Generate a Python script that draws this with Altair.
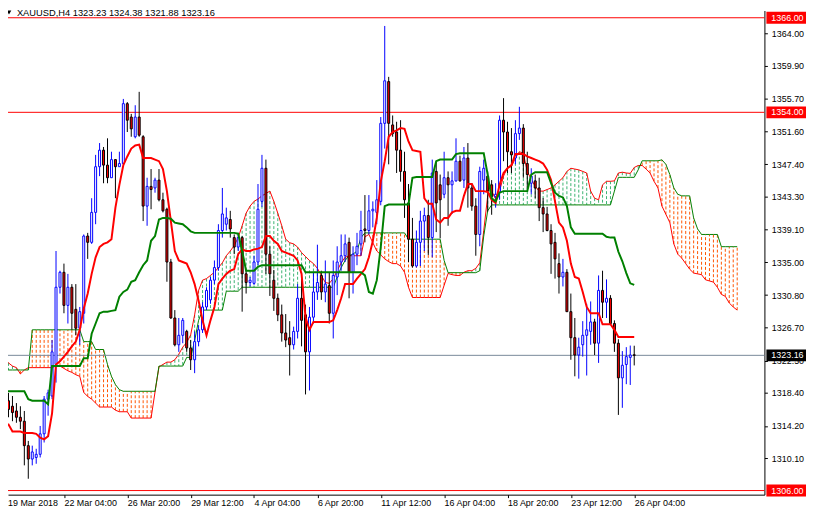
import altair as alt
import pandas as pd

# ---------------- data ----------------
opens = [1311.0, 1311.7, 1317.4, 1316.7, 1316.1, 1315.3, 1314.8, 1311.7, 1310.0, 1310.2,
         1310.6, 1313.2, 1317.6, 1318.0, 1322.0, 1331.8, 1333.7, 1329.5, 1331.8, 1329.0,
         1326.6, 1328.5, 1338.3, 1337.5, 1341.3, 1347.1, 1349.2, 1347.3, 1345.7, 1348.0,
         1347.1, 1347.5, 1355.1, 1353.4, 1350.9, 1353.4, 1350.9, 1342.1, 1344.6, 1344.4,
         1345.4, 1342.9, 1341.7, 1335.0, 1327.9, 1324.5, 1325.7, 1326.2, 1324.1, 1322.6,
         1324.9, 1326.4, 1329.3, 1330.2, 1332.7, 1334.3, 1339.0, 1339.8, 1340.4, 1338.1,
         1336.9, 1338.1, 1333.5, 1332.4, 1332.3, 1335.0, 1342.7, 1346.9, 1336.0, 1332.7,
         1330.4, 1328.3, 1326.0, 1325.4, 1324.5, 1326.2, 1330.4, 1328.3, 1323.6, 1328.0,
         1331.2, 1333.3, 1331.2, 1332.0, 1328.5, 1333.1, 1335.0, 1335.8, 1337.5, 1333.7,
         1336.0, 1337.3, 1339.2, 1339.0, 1341.5, 1341.3, 1342.7, 1352.6, 1357.9, 1352.4,
         1351.5, 1349.2, 1346.5, 1342.5, 1337.9, 1334.5, 1337.5, 1340.2, 1340.9, 1338.1,
         1346.5, 1344.8, 1343.6, 1345.7, 1344.8, 1345.3, 1347.8, 1345.4, 1348.2, 1344.4,
         1342.1, 1338.5, 1345.4, 1345.9, 1344.8, 1343.3, 1343.9, 1353.0, 1351.5, 1349.0,
         1348.2, 1351.3, 1352.0, 1347.5, 1345.0, 1345.3, 1344.4, 1341.9, 1341.1, 1339.0,
         1337.5, 1334.8, 1333.1, 1333.7, 1328.7, 1325.4, 1323.2, 1324.5, 1325.7, 1326.2,
         1327.4, 1324.7, 1331.4, 1329.9, 1330.4, 1327.2, 1324.7, 1320.3, 1322.0, 1322.9,
         1323.23]
highs = [1313.8, 1319.4, 1318.4, 1318.0, 1317.1, 1316.7, 1316.1, 1312.3, 1311.7, 1311.3,
         1314.2, 1318.0, 1318.8, 1325.1, 1336.4, 1333.9, 1334.8, 1333.5, 1332.2, 1332.2,
         1329.3, 1338.5, 1338.7, 1343.1, 1348.6, 1350.1, 1349.6, 1350.7, 1349.0, 1348.0,
         1349.0, 1355.7, 1355.3, 1353.8, 1354.9, 1356.6, 1351.1, 1345.7, 1346.8, 1345.7,
         1346.8, 1343.8, 1341.9, 1335.4, 1328.9, 1327.9, 1327.9, 1326.4, 1325.1, 1326.2,
         1327.0, 1329.9, 1331.8, 1333.1, 1335.2, 1339.8, 1344.4, 1341.9, 1341.5, 1338.5,
         1338.7, 1338.3, 1333.9, 1333.1, 1335.8, 1344.9, 1348.6, 1348.0, 1337.0, 1334.0,
         1331.0, 1329.6, 1328.4, 1327.5, 1326.8, 1332.2, 1333.7, 1329.6, 1329.3, 1333.7,
         1337.2, 1333.9, 1335.2, 1333.7, 1335.2, 1337.0, 1338.5, 1338.5, 1338.1, 1337.0,
         1338.7, 1341.5, 1343.5, 1343.5, 1342.7, 1345.4, 1353.4, 1364.96, 1358.5, 1353.6,
         1352.8, 1353.0, 1349.0, 1344.9, 1340.6, 1339.0, 1341.5, 1341.9, 1342.9, 1348.0,
         1347.7, 1346.1, 1349.0, 1346.5, 1346.5, 1350.7, 1348.5, 1349.6, 1350.1, 1345.0,
         1343.1, 1347.1, 1348.0, 1346.5, 1345.4, 1345.0, 1353.6, 1355.8, 1352.8, 1352.0,
         1353.0, 1354.7, 1352.5, 1349.0, 1346.9, 1346.1, 1345.7, 1343.1, 1342.0, 1339.8,
         1338.7, 1336.1, 1335.4, 1334.1, 1331.0, 1327.9, 1325.4, 1327.5, 1329.7, 1330.0,
         1327.8, 1333.3, 1333.9, 1332.8, 1330.8, 1327.6, 1325.2, 1323.7, 1324.2, 1324.4,
         1324.38]
lows = [1309.5, 1310.6, 1315.3, 1314.8, 1314.6, 1313.8, 1309.2, 1307.5, 1309.2, 1309.4,
        1310.2, 1312.1, 1315.5, 1317.6, 1319.7, 1331.0, 1328.5, 1327.2, 1326.4, 1325.7,
        1324.5, 1327.2, 1335.4, 1337.3, 1339.8, 1345.9, 1345.0, 1345.0, 1345.7, 1343.1,
        1347.1, 1347.3, 1351.5, 1350.9, 1350.7, 1350.9, 1340.2, 1339.6, 1341.7, 1343.8,
        1342.7, 1341.3, 1332.5, 1327.8, 1324.3, 1323.6, 1324.7, 1323.6, 1321.3, 1320.9,
        1324.3, 1326.0, 1328.9, 1329.7, 1332.2, 1333.9, 1338.1, 1339.0, 1338.1, 1336.0,
        1336.4, 1328.7, 1331.0, 1331.9, 1332.1, 1334.6, 1342.0, 1333.5, 1330.7, 1328.8,
        1327.5, 1324.9, 1324.2, 1320.6, 1323.9, 1325.3, 1324.3, 1318.2, 1318.7, 1327.2,
        1330.2, 1330.2, 1329.9, 1327.2, 1325.3, 1330.8, 1333.9, 1335.0, 1330.4, 1331.0,
        1334.6, 1335.8, 1337.5, 1338.5, 1339.4, 1339.8, 1342.2, 1349.4, 1347.4, 1350.9,
        1346.3, 1345.2, 1340.6, 1335.0, 1334.3, 1334.3, 1334.5, 1336.4, 1335.9, 1335.6,
        1338.8, 1338.0, 1343.1, 1339.6, 1341.1, 1345.2, 1345.2, 1344.4, 1341.9, 1341.5,
        1335.8, 1337.0, 1343.6, 1341.4, 1341.0, 1341.9, 1342.9, 1347.8, 1346.3, 1346.3,
        1347.4, 1350.5, 1345.7, 1344.2, 1343.6, 1343.1, 1340.2, 1338.8, 1338.9, 1333.5,
        1332.9, 1331.0, 1331.9, 1328.7, 1322.6, 1320.5, 1320.2, 1323.0, 1320.6, 1324.5,
        1323.2, 1322.2, 1327.9, 1327.9, 1327.2, 1323.6, 1315.6, 1316.5, 1319.5, 1319.4,
        1321.88]
closes = [1313.0, 1318.6, 1316.3, 1315.9, 1315.3, 1314.8, 1311.7, 1310.0, 1310.9, 1310.6,
          1313.2, 1317.6, 1318.4, 1323.6, 1331.8, 1333.7, 1329.5, 1331.8, 1328.5, 1326.6,
          1328.7, 1338.3, 1337.5, 1341.3, 1347.1, 1349.2, 1347.3, 1345.7, 1348.0, 1347.1,
          1347.5, 1355.1, 1353.0, 1351.9, 1353.4, 1351.1, 1342.1, 1344.6, 1344.2, 1345.4,
          1342.9, 1341.5, 1335.0, 1327.9, 1324.5, 1325.7, 1327.6, 1324.1, 1322.6, 1324.9,
          1326.4, 1329.3, 1331.4, 1332.7, 1334.3, 1339.0, 1341.1, 1340.6, 1339.2, 1336.9,
          1338.1, 1333.5, 1332.4, 1332.7, 1335.0, 1341.7, 1346.9, 1336.0, 1333.5, 1330.4,
          1328.3, 1326.0, 1325.1, 1324.5, 1326.2, 1330.4, 1327.6, 1323.6, 1328.0, 1331.2,
          1332.4, 1331.2, 1332.2, 1328.5, 1333.3, 1335.0, 1335.8, 1337.3, 1333.7, 1336.0,
          1337.0, 1339.0, 1339.0, 1341.5, 1341.7, 1342.9, 1352.6, 1358.0, 1352.6, 1351.3,
          1349.2, 1346.5, 1342.9, 1337.9, 1334.5, 1337.5, 1340.2, 1340.9, 1338.1, 1346.3,
          1342.5, 1342.9, 1345.7, 1344.8, 1345.3, 1347.8, 1345.3, 1348.2, 1344.4, 1342.1,
          1338.5, 1346.5, 1346.9, 1344.0, 1343.3, 1343.6, 1353.0, 1351.5, 1349.0, 1348.6,
          1351.3, 1352.0, 1347.5, 1346.1, 1345.9, 1344.4, 1341.9, 1341.1, 1339.0, 1337.3,
          1335.4, 1333.1, 1333.7, 1328.7, 1325.4, 1323.2, 1324.2, 1325.7, 1326.4, 1327.4,
          1324.7, 1331.4, 1329.9, 1330.4, 1327.2, 1324.7, 1320.3, 1321.9, 1323.0, 1323.2,
          1323.16]
tenkan = [1314.4, 1314.4, 1314.4, 1313.5, 1313.5, 1313.5, 1313.3, 1313.3, 1313.3, 1313.2,
          1312.7, 1312.5, 1312.9, 1315.8, 1322.0, 1322.4, 1323.0, 1323.6, 1324.3, 1324.9,
          1326.4, 1329.1, 1331.0, 1333.5, 1335.6, 1336.9, 1337.3, 1337.5, 1337.9, 1341.9,
          1344.8, 1347.3, 1348.4, 1349.4, 1349.8, 1349.9, 1348.2, 1348.2, 1348.2, 1348.0,
          1347.8, 1346.8, 1344.0, 1340.2, 1336.4, 1335.2, 1335.0, 1334.8, 1333.7, 1332.2,
          1330.1, 1327.6, 1325.7, 1327.6, 1329.3, 1332.2, 1332.9, 1333.5, 1333.9, 1334.1,
          1336.0, 1336.6, 1336.4, 1336.4, 1336.6, 1336.7, 1336.9, 1338.3, 1338.3, 1337.7,
          1337.3, 1336.4, 1336.2, 1336.0, 1335.8, 1335.2, 1333.5, 1328.0, 1326.4, 1327.4,
          1327.4, 1327.4, 1327.4, 1327.4, 1327.6, 1328.9, 1330.4, 1332.2, 1332.2, 1332.2,
          1332.9, 1333.5, 1334.1, 1335.6, 1337.7, 1340.6, 1345.2, 1347.8, 1350.9, 1351.5,
          1351.7, 1352.0, 1351.9, 1350.3, 1349.2, 1349.1, 1349.0, 1343.1, 1342.4, 1342.4,
          1340.4, 1340.0, 1340.6, 1340.6, 1341.3, 1341.5, 1341.5, 1343.4, 1344.9, 1344.9,
          1344.0, 1344.0, 1344.0, 1343.9, 1342.9, 1342.5, 1344.8, 1346.3, 1346.9, 1347.3,
          1348.7, 1348.7, 1348.7, 1348.4, 1348.2, 1348.0, 1347.8, 1347.5, 1346.7, 1345.4,
          1342.7, 1340.0, 1339.4, 1337.7, 1334.8, 1333.1, 1332.9, 1331.2, 1329.3, 1328.5,
          1328.5, 1328.5, 1327.1, 1327.1, 1327.1, 1326.4, 1325.5, 1325.5, 1325.5, 1325.5,
          1325.5]
kijun = [1318.6, 1318.6, 1318.6, 1318.6, 1318.6, 1318.6, 1318.6, 1317.6, 1317.4, 1317.4,
         1317.4, 1317.4, 1316.95, 1321.8, 1321.8, 1321.8, 1321.8, 1321.8, 1321.8, 1321.8,
         1321.8, 1322.8, 1322.8, 1325.9, 1327.2, 1328.5, 1328.7, 1328.7, 1328.8, 1328.9,
         1330.6, 1331.2, 1331.5, 1332.5, 1332.7, 1333.7, 1334.6, 1335.2, 1337.7, 1338.3,
         1340.4, 1340.6, 1340.6, 1340.5, 1340.0, 1339.9, 1339.8, 1339.4, 1338.9, 1338.7,
         1338.7, 1338.7, 1338.7, 1338.7, 1338.7, 1338.7, 1338.7, 1338.7, 1338.7, 1338.7,
         1338.6, 1336.4, 1333.9, 1333.9, 1333.9, 1334.4, 1334.6, 1334.6, 1334.6, 1334.6,
         1334.6, 1334.6, 1334.6, 1334.6, 1334.6, 1334.6, 1334.6, 1333.7, 1333.7, 1333.7,
         1333.7, 1333.7, 1333.7, 1333.7, 1333.7, 1333.7, 1333.7, 1333.7, 1333.7, 1333.7,
         1333.7, 1333.7, 1333.3, 1331.2, 1331.0, 1332.7, 1336.9, 1342.1, 1342.3, 1342.3,
         1342.3, 1342.3, 1342.3, 1342.3, 1345.7, 1345.8, 1345.8, 1345.8, 1345.8, 1345.8,
         1347.8, 1348.0, 1348.0, 1348.0, 1348.0, 1348.7, 1348.8, 1348.8, 1348.8, 1348.8,
         1348.8, 1348.8, 1348.8, 1346.1, 1343.1, 1342.7, 1343.8, 1344.0, 1344.0, 1344.0,
         1344.0, 1344.0, 1344.0, 1344.0, 1346.1, 1346.4, 1346.4, 1346.4, 1346.4, 1345.0,
         1343.8, 1343.4, 1343.2, 1342.1, 1339.4, 1338.6, 1338.6, 1338.6, 1338.6, 1338.6,
         1338.6, 1338.6, 1338.6, 1338.2, 1338.1, 1338.1, 1336.3, 1335.1, 1333.6, 1332.3,
         1332.1]
span_a = [1323.2, 1322.7, 1322.2, 1321.8, 1321.6, 1320.8, 1321.3, 1321.6, 1321.6, 1321.6,
          1321.6, 1321.6, 1321.6, 1321.6, 1321.8, 1321.8, 1321.5, 1321.2, 1321.0, 1320.7,
          1320.5, 1318.45, 1317.95, 1317.6, 1317.1, 1316.6, 1316.6, 1316.6, 1316.6, 1316.2,
          1316.0, 1316.0, 1316.0, 1315.2, 1315.2, 1315.2, 1315.2, 1315.2, 1315.2, 1318.5,
          1321.7, 1322.0, 1322.3, 1322.3, 1322.6, 1323.3, 1324.2, 1324.8, 1325.75, 1328.3,
          1331.4, 1332.7, 1332.9, 1333.3, 1333.7, 1334.3, 1334.9, 1335.8, 1336.4, 1337.1,
          1338.1, 1339.6, 1341.2, 1342.1, 1342.7, 1343.0, 1343.4, 1343.7, 1344.0, 1342.7,
          1341.2, 1339.6, 1337.9, 1337.45, 1337.3, 1336.9, 1336.2, 1335.7, 1335.2, 1334.8,
          1334.2, 1333.3, 1332.4, 1332.3, 1332.9, 1333.9, 1334.9, 1335.6, 1335.8, 1335.8,
          1335.8, 1335.8, 1338.2, 1338.5, 1337.45, 1336.4, 1335.9, 1335.4, 1335.05, 1334.8,
          1334.8, 1334.5, 1333.7, 1331.8, 1330.5, 1330.5, 1330.5, 1330.5, 1330.5, 1330.5,
          1330.5, 1330.5, 1332.05, 1333.55, 1333.4, 1333.3, 1333.3, 1333.7, 1333.9, 1333.9,
          1334.2, 1334.9, 1338.96, 1343.4, 1344.0, 1343.0, 1344.0, 1345.9, 1347.0, 1347.1,
          1348.2, 1349.0, 1348.8, 1346.5, 1345.5, 1344.6, 1344.0, 1344.0, 1344.2, 1344.4,
          1344.8, 1345.25, 1345.7, 1346.5, 1346.9, 1346.8, 1346.7, 1346.5, 1346.3, 1344.0,
          1343.1, 1342.9, 1344.8, 1345.25, 1345.25, 1345.3, 1346.3, 1346.4, 1346.3, 1346.25,
          1347.0, 1347.25, 1347.25, 1346.8, 1346.3, 1345.25, 1344.4, 1342.1, 1341.05, 1340.0,
          1337.3, 1336.0, 1335.5, 1334.8, 1334.1, 1333.6, 1333.5, 1333.4, 1332.75, 1332.6,
          1332.45, 1331.8, 1330.9, 1330.65, 1329.8, 1329.3, 1328.9]
span_b = [1321.3, 1321.3, 1321.3, 1321.3, 1321.3, 1321.3, 1321.3, 1321.3, 1326.4, 1326.4,
          1326.4, 1326.4, 1326.4, 1326.4, 1326.4, 1326.4, 1326.4, 1326.4, 1326.4, 1326.4,
          1326.4, 1324.9, 1324.9, 1324.9, 1323.9, 1323.9, 1323.9, 1322.0, 1320.5, 1319.45,
          1318.8, 1318.6, 1318.6, 1318.6, 1318.6, 1318.6, 1318.6, 1318.6, 1318.6, 1318.6,
          1321.8, 1321.8, 1321.8, 1321.8, 1321.8, 1321.8, 1321.8, 1322.9, 1322.9, 1325.0,
          1327.6, 1328.9, 1328.9, 1328.9, 1328.9, 1328.9, 1328.9, 1331.3, 1331.3, 1331.3,
          1331.3, 1331.8, 1331.8, 1331.8, 1331.8, 1331.8, 1331.8, 1331.8, 1331.8, 1331.8,
          1331.8, 1331.8, 1331.8, 1331.8, 1331.8, 1331.8, 1331.8, 1331.8, 1331.8, 1331.8,
          1331.8, 1331.8, 1331.8, 1331.8, 1331.8, 1333.1, 1334.3, 1335.2, 1335.8, 1336.0,
          1336.4, 1338.1, 1338.7, 1338.7, 1338.7, 1338.7, 1338.7, 1338.7, 1338.7, 1338.7,
          1338.7, 1338.7, 1338.7, 1337.9, 1337.9, 1337.9, 1337.9, 1337.9, 1337.9, 1337.9,
          1337.9, 1337.9, 1335.2, 1333.65, 1333.65, 1333.65, 1333.65, 1333.65, 1333.65, 1333.65,
          1333.65, 1333.9, 1338.3, 1341.5, 1342.25, 1342.25, 1342.25, 1342.25, 1342.25, 1342.25,
          1342.25, 1342.25, 1342.25, 1342.25, 1342.25, 1342.25, 1342.25, 1342.25, 1342.25, 1342.25,
          1342.25, 1342.25, 1342.25, 1342.25, 1342.25, 1342.25, 1342.25, 1342.25, 1342.25, 1342.25,
          1342.25, 1342.25, 1342.25, 1342.25, 1342.25, 1344.0, 1345.75, 1345.75, 1345.75, 1345.75,
          1345.75, 1346.7, 1347.85, 1347.85, 1347.85, 1347.85, 1347.85, 1347.97, 1347.4, 1346.1,
          1344.4, 1343.6, 1343.4, 1343.4, 1343.4, 1340.6, 1339.2, 1338.5, 1338.5, 1338.5,
          1338.5, 1338.5, 1336.95, 1336.95, 1336.95, 1336.95, 1336.95]

price_ticks = [1364.00, 1359.90, 1355.70, 1351.60, 1347.40, 1343.30, 1339.10,
               1335.00, 1330.80, 1326.70, 1322.50, 1318.40, 1314.20, 1310.10]
date_bars = [16, 32, 48, 64, 80, 96, 112, 128, 144, 160]
date_labels = ["22 Mar 04:00", "26 Mar 20:00", "29 Mar 12:00", "4 Apr 04:00", "6 Apr 20:00",
               "11 Apr 12:00", "16 Apr 04:00", "18 Apr 20:00", "23 Apr 12:00", "26 Apr 04:00"]
first_date_label = "19 Mar 2018"
level_prices = [1366.00, 1354.00, 1306.00]
bid_price = 1323.16
header_text = "XAUUSD,H4  1323.23 1324.38 1321.88 1323.16"

assert len(opens) == len(highs) == len(lows) == len(closes) == len(tenkan) == len(kijun) == 161
assert len(span_a) == len(span_b) == 187

# ---------------- tables ----------------
candles = pd.DataFrame({"bar": list(range(len(opens))), "open": opens, "high": highs,
                        "low": lows, "close": closes, "tenkan": tenkan, "kijun": kijun})
candles["dir"] = ["up" if c >= o else "down" for o, c in zip(opens, closes)]
cloud = pd.DataFrame({"bar": list(range(len(span_a))), "a": span_a, "b": span_b})
cloud["kind"] = ["bull" if a >= b else "bear" for a, b in zip(span_a, span_b)]
levels = pd.DataFrame({"price": level_prices})
bid = pd.DataFrame({"price": [bid_price]})
boxes = pd.DataFrame({"price": level_prices + [bid_price],
                      "kind": ["level"] * len(level_prices) + ["bid"]})
boxes["label"] = [f"{p:.2f}" for p in boxes["price"]]

# ---------------- chart ----------------
FONT = "Liberation Sans"
W, H = 764, 489
xs = alt.Scale(domain=[1.875, 192.875], nice=False, zero=False, padding=0)
ys = alt.Scale(domain=[1305.48, 1366.92], nice=False, zero=False, padding=0)

label_expr = " : ".join(f"datum.value == {b} ? '{l}'" for b, l in zip(date_bars, date_labels)) + " : ''"
x_axis = alt.Axis(values=date_bars, labelExpr=label_expr, orient="bottom", tickSize=3,
                  labelAlign="left", labelBaseline="top", labelPadding=1, labelOverlap=False,
                  labelFlush=False, domainColor="black", tickColor="black", labelColor="black",
                  labelFont=FONT, labelFontSize=9, title=None, grid=False)
y_axis = alt.Axis(values=price_ticks, format=".2f", orient="right", tickSize=3, labelPadding=4,
                  labelOverlap=False, labelFlush=False, domainColor="black", tickColor="black",
                  labelColor="black", labelFont=FONT, labelFontSize=9, title=None, grid=False)


def X(field="bar"):
    return alt.X(f"{field}:Q", scale=xs, axis=x_axis)


def Y(field):
    return alt.Y(f"{field}:Q", scale=ys, axis=y_axis)


cloud_layer = alt.Chart(cloud).mark_rule(strokeDash=[3, 2], strokeWidth=1, clip=True).encode(
    x=X(), y=Y("a"), y2="b",
    color=alt.Color("kind:N", scale=alt.Scale(domain=["bull", "bear"], range=["#3CB371", "#FF5500"]),
                    legend=None))
span_a_line = alt.Chart(cloud).mark_line(color="#FF0000", strokeWidth=1, clip=True).encode(
    x=X(), y=Y("a"))
span_b_line = alt.Chart(cloud).mark_line(color="#008000", strokeWidth=1, clip=True).encode(
    x=X(), y=Y("b"))
level_lines = alt.Chart(levels).mark_rule(color="#FF0000", strokeWidth=1).encode(y=Y("price"))
bid_line = alt.Chart(bid).mark_rule(color="#778899", strokeWidth=1).encode(y=Y("price"))

wicks = alt.Chart(candles).mark_rule(strokeWidth=1, clip=True).encode(
    x=X(), y=Y("low"), y2="high",
    color=alt.Color("dir:N", scale=alt.Scale(domain=["up", "down"], range=["#0000FF", "#000000"]),
                    legend=None))
bodies = alt.Chart(candles).mark_bar(size=2, strokeWidth=1, clip=True).encode(
    x=X(), y=Y("open"), y2="close",
    fill=alt.Fill("dir:N", scale=alt.Scale(domain=["up", "down"], range=["#FFFFFF", "#FF0000"]),
                  legend=None),
    stroke=alt.Stroke("dir:N", scale=alt.Scale(domain=["up", "down"], range=["#0000FF", "#000000"]),
                      legend=None))
tenkan_line = alt.Chart(candles).mark_line(color="#FF0000", strokeWidth=2, clip=True).encode(
    x=X(), y=Y("tenkan"))
kijun_line = alt.Chart(candles).mark_line(color="#008000", strokeWidth=2, clip=True).encode(
    x=X(), y=Y("kijun"))

box_layer = alt.Chart(boxes).mark_bar(size=12).encode(
    y=Y("price"), x=alt.value(W + 2), x2=alt.value(W + 42),
    color=alt.Color("kind:N", scale=alt.Scale(domain=["level", "bid"], range=["#FF0000", "#000000"]),
                    legend=None))
box_text = alt.Chart(boxes).mark_text(align="left", baseline="middle", color="white",
                                      font=FONT, fontSize=9).encode(
    y=Y("price"), x=alt.value(W + 7), text="label:N")

header = alt.Chart(pd.DataFrame({"t": [header_text]})).mark_text(
    align="left", baseline="alphabetic", font=FONT, fontSize=9.4, color="black").encode(
    x=alt.value(9), y=alt.value(6), text="t:N")
header_tri = alt.Chart(pd.DataFrame({"t": [header_text]})).mark_point(
    shape="triangle-down", filled=True, size=22, color="black", opacity=1).encode(
    x=alt.value(1), y=alt.value(2))
first_label = alt.Chart(pd.DataFrame({"t": [first_date_label]})).mark_text(
    align="left", baseline="top", font=FONT, fontSize=9, color="black").encode(
    x=alt.value(0), y=alt.value(H + 4), text="t:N")

chart = alt.layer(
    cloud_layer, span_a_line, span_b_line, level_lines, bid_line,
    wicks, bodies, tenkan_line, kijun_line,
    box_layer, box_text, header, header_tri, first_label
).resolve_scale(
    color="independent", fill="independent", stroke="independent"
).properties(
    width=W, height=H,
    autosize=alt.AutoSizeParams(type="none"),
    padding={"left": 0, "top": 0, "right": 42, "bottom": 17},
    background="white"
).configure_view(stroke=None)

chart.save("out.html", embed_options={"renderer": "svg", "actions": False})
